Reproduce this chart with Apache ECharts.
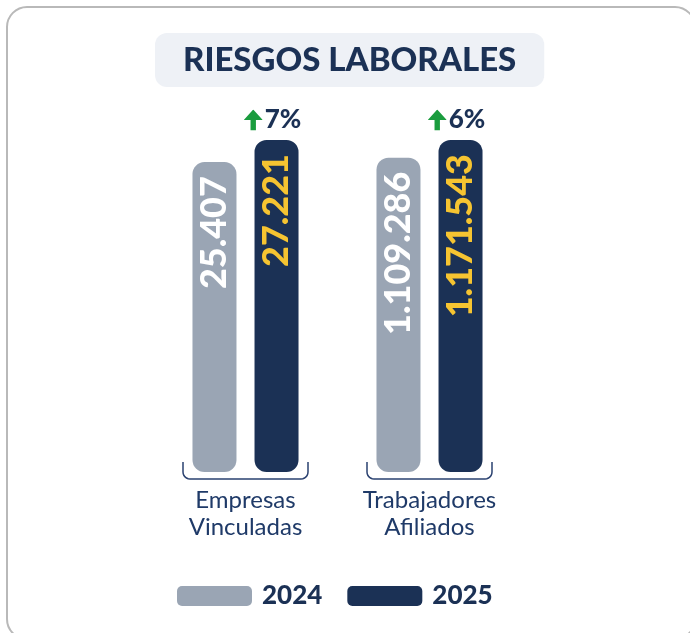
<!DOCTYPE html>
<html>
<head>
<meta charset="utf-8">
<script src="https://cdn.jsdelivr.net/npm/echarts@6/dist/echarts.min.js"></script>
<style>
  html, body { margin: 0; padding: 0; background: #fff; }
  #chart { width: 690px; height: 633px; }
</style>
</head>
<body>
<div id="chart"></div>
<script>
// datos
const categories = ['Empresas\nVinculadas', 'Trabajadores\nAfiliados'];
const years = ['2024', '2025'];
const values2024 = [25407, 1109286];
const values2025 = [27221, 1171543];

const GRAY = '#9aa5b4';
const NAVY = '#1b3155';
const YELLOW = '#f6c431';
const GREEN = '#1a9c3e';
const FONT = 'Lato';

// flecha verde (icono svg)
const arrowSvg = '<svg xmlns="http://www.w3.org/2000/svg" width="19" height="20" viewBox="0 0 19 20">' +
  '<path d="M9.5 0 L19 10 L12.2 10 L12.2 20 L6.8 20 L6.8 10 L0 10 Z" fill="' + GREEN + '"/></svg>';
const arrowImg = 'data:image/svg+xml;charset=utf-8,' + encodeURIComponent(arrowSvg);

// un grid por grupo (cada grupo con su propia escala)
const grids = [
  { left: 183, width: 125, top: 140, bottom: 161 },
  { left: 367, width: 125, top: 140, bottom: 161 }
];

function fmt (v) {
  return String(v).replace(/\B(?=(\d{3})+(?!\d))/g, '.');
}
function pct (i) {
  return Math.round((values2025[i] / values2024[i] - 1) * 100);
}

// corchete bajo cada grupo
function bracket (g) {
  const x0 = g.left, x1 = g.left + g.width, yt = 462, yb = 479, r = 7;
  const pts = [[x0, yt]];
  for (let k = 0; k <= 6; k++) {
    const a = Math.PI - k * Math.PI / 12;
    pts.push([x0 + r + r * Math.cos(a), yb - r + r * Math.sin(a)]);
  }
  for (let k = 0; k <= 6; k++) {
    const a = Math.PI / 2 - k * Math.PI / 12;
    pts.push([x1 - r + r * Math.cos(a), yb - r + r * Math.sin(a)]);
  }
  pts.push([x1, yt]);
  return {
    type: 'polyline',
    shape: { points: pts },
    style: { fill: null, stroke: '#2a4170', lineWidth: 1.5 }
  };
}

const chart = echarts.init(document.getElementById('chart'));

const valueLabel = color => ({
  show: true,
  position: 'insideTop',
  distance: 14,
  rotate: 90,
  align: 'right',
  verticalAlign: 'middle',
  formatter: p => fmt(p.value),
  fontFamily: FONT,
  fontWeight: 900,
  fontSize: 36,
  color: color
});

const xAxes = [], yAxes = [], series = [], brackets = [];
grids.forEach((g, i) => {
  xAxes.push({
    type: 'category',
    gridIndex: i,
    data: [categories[i]],
    axisLine: { show: false },
    axisTick: { show: false },
    axisLabel: {
      margin: 15,
      fontFamily: FONT,
      fontSize: 24,
      lineHeight: 27,
      color: '#1f3a68'
    }
  });
  yAxes.push({ type: 'value', gridIndex: i, show: false, min: 0, max: 'dataMax' });

  series.push({
    name: years[0],
    type: 'bar',
    xAxisIndex: i,
    yAxisIndex: i,
    barWidth: 44,
    barGap: '41%',
    data: [values2024[i]],
    itemStyle: { color: GRAY, borderRadius: 12 },
    label: valueLabel('#fff')
  });
  series.push({
    name: years[1],
    type: 'bar',
    stack: 'g' + i,
    xAxisIndex: i,
    yAxisIndex: i,
    barWidth: 44,
    data: [values2025[i]],
    itemStyle: { color: NAVY, borderRadius: 12 },
    label: valueLabel(YELLOW)
  });
  // barra vacia encima para el porcentaje
  series.push({
    name: 'var',
    type: 'bar',
    stack: 'g' + i,
    xAxisIndex: i,
    yAxisIndex: i,
    barWidth: 44,
    data: [0],
    itemStyle: { color: 'transparent' },
    label: {
      show: true,
      position: 'top',
      distance: 7,
      offset: [-4, 0],
      formatter: () => '{a|}{b|' + pct(i) + '%}',
      rich: {
        a: { width: 19, height: 21, backgroundColor: { image: arrowImg } },
        b: { color: NAVY, fontFamily: FONT, fontWeight: 900, fontSize: 26, padding: [0, 0, 0, 2] }
      }
    }
  });

  brackets.push(bracket(g));
});

const option = {
  backgroundColor: '#fff',
  animation: false,
  title: {
    text: 'RIESGOS LABORALES',
    left: 155,
    top: 33,
    padding: [10, 28],
    backgroundColor: '#eef1f6',
    borderRadius: 12,
    textStyle: {
      fontFamily: FONT,
      fontWeight: 900,
      fontSize: 33,
      lineHeight: 34,
      color: NAVY
    }
  },
  legend: {
    data: years,
    left: 177,
    top: 583,
    padding: 0,
    icon: 'roundRect',
    itemWidth: 75,
    itemHeight: 20,
    itemGap: 25,
    textStyle: {
      fontFamily: FONT,
      fontWeight: 900,
      fontSize: 26,
      color: NAVY,
      padding: [0, 0, 0, 5]
    }
  },
  grid: grids,
  xAxis: xAxes,
  yAxis: yAxes,
  series: series,
  graphic: [
    {
      type: 'rect',
      z: -10,
      shape: { x: 7, y: 7, width: 688, height: 632, r: 20 },
      style: { fill: null, stroke: '#b9b9b9', lineWidth: 2 }
    }
  ].concat(brackets)
};

chart.setOption(option);
</script>
</body>
</html>
